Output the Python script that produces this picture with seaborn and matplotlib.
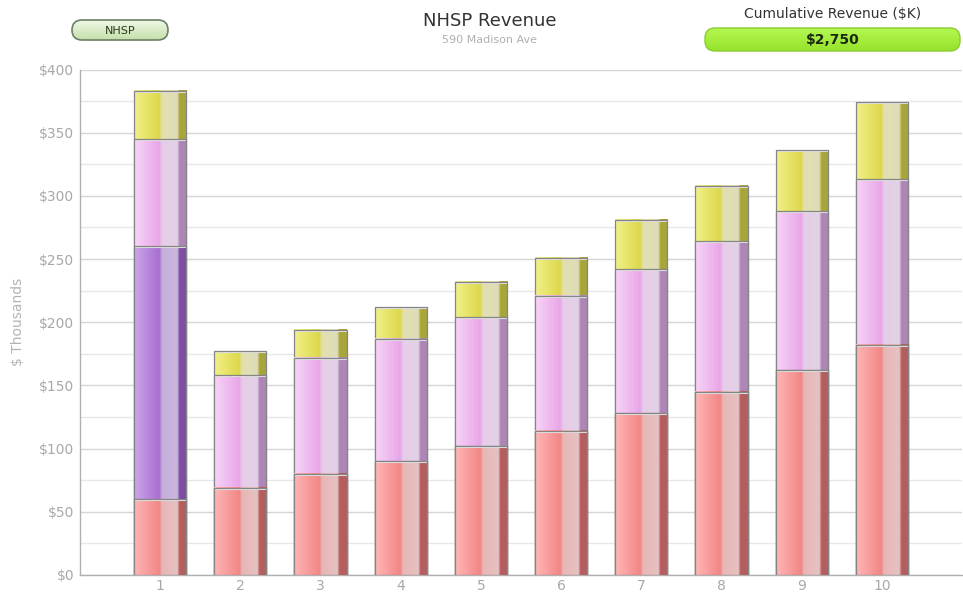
import numpy as np
import pandas as pd
import matplotlib
matplotlib.use("Agg")
import matplotlib.pyplot as plt
import seaborn as sns
from matplotlib.ticker import MultipleLocator, FuncFormatter
from matplotlib.patches import FancyBboxPatch
from matplotlib.colors import to_rgb

# ---- data ----
periods = ["1", "2", "3", "4", "5", "6", "7", "8", "9", "10"]
red = [60, 69, 80, 90, 102, 114, 128, 145, 162, 182]
purple = [200, 0, 0, 0, 0, 0, 0, 0, 0, 0]
pink = [85, 89, 92, 97, 102, 107, 114, 119, 126, 131]
yellow = [38, 19, 22, 25, 28, 30, 39, 44, 48, 61]
cumulative_label = "$2,750"

sns.set_theme(style="white")
plt.rcParams['font.family'] = ['DejaVu Sans']

W, H = 963, 593
fig = plt.figure(figsize=(W / 100, H / 100), dpi=100)
ax = fig.add_axes([80 / W, (H - 575) / H, (962 - 80) / W, (575 - 69.5) / H])

df = pd.DataFrame({"period": periods, "red": red, "purple": purple,
                   "pink": pink, "yellow": yellow})
df["c_red"] = df["red"]
df["c_purple"] = df["c_red"] + df["purple"]
df["c_pink"] = df["c_purple"] + df["pink"]
df["c_yellow"] = df["c_pink"] + df["yellow"]

# gradient profiles (left -> right): light, saturated, light band, dark edge
profiles = {
    "yellow": ["#f2f08a", "#dcd84a", "#e2e0b0", "#dedcb8", "#a8a63a"],
    "pink":   ["#f8d4f8", "#e8a6e8", "#e6cce8", "#e2d2e6", "#ae86b6"],
    "purple": ["#cca6ea", "#a86ed2", "#c6aedc", "#cab8da", "#7e4ea6"],
    "red":    ["#ffb6b6", "#f28686", "#e8b6b6", "#e6c2c2", "#b45e5e"],
}
stops = [0.0, 0.48, 0.53, 0.82, 0.86]


def gradient(colors, n=200):
    xs = np.linspace(0, 1, n)
    sp = stops + [1.0]
    cols = colors + [colors[-1]]
    rgb = np.array([to_rgb(c) for c in cols])
    out = np.zeros((1, n, 3))
    for k in range(3):
        out[0, :, k] = np.interp(xs, sp, rgb[:, k])
    return out


layers = [("yellow", "c_yellow", 2), ("pink", "c_pink", 3),
          ("purple", "c_purple", 4), ("red", "c_red", 5)]

for name, col, z in layers:
    n_before = len(ax.patches)
    sns.barplot(data=df, x="period", y=col, color=profiles[name][1],
                width=0.65, ax=ax, edgecolor="#858585", linewidth=0.9)
    img = gradient(profiles[name])
    for p in ax.patches[n_before:]:
        x0, y0 = p.get_x(), p.get_y()
        w, h = p.get_width(), p.get_height()
        if h <= 0:
            continue
        ax.imshow(img, extent=[x0, x0 + w, y0, y0 + h], aspect="auto",
                  zorder=z, interpolation="bilinear")
        p.set_facecolor("none")
        p.set_zorder(z + 0.5)
        ax.plot([x0, x0 + w], [y0 + h - 0.8, y0 + h - 0.8], color="#e6e6e6",
                lw=0.8, zorder=z + 0.4)

ax.set_xlim(-1, 10)
ax.set_ylim(0, 400)
ax.yaxis.set_major_locator(MultipleLocator(50))
ax.yaxis.set_minor_locator(MultipleLocator(25))
ax.yaxis.set_major_formatter(FuncFormatter(lambda v, _: f"${v:.0f}"))
ax.grid(axis="y", which="major", color="#d6d6d6", lw=1.0, zorder=0)
ax.grid(axis="y", which="minor", color="#e8e8e8", lw=1.0, zorder=0)
ax.set_axisbelow(True)
for s in ["top", "right"]:
    ax.spines[s].set_visible(False)
for s in ["left", "bottom"]:
    ax.spines[s].set_color("#b0b0b0")
    ax.spines[s].set_linewidth(1.0)
ax.tick_params(axis="both", colors="#a8a8a8", labelsize=10, length=0, pad=4)
ax.tick_params(axis="x", pad=3)
ax.set_xlabel("")
ax.set_ylabel("$ Thousands", color="#b4b4b4", fontsize=10)
ax.yaxis.set_label_coords((25 - 80) / 882, 0.5)

# ---- header (overlay in pixel coordinates) ----
hx = fig.add_axes([0, 0, 1, 1], zorder=10)
hx.set_xlim(0, W)
hx.set_ylim(H, 0)
hx.axis("off")
hx.patch.set_alpha(0)


def pill(x, y, w, h, r, top, bottom, edge, lw):
    grad = np.linspace(0, 1, 50)[:, None]
    c0, c1 = np.array(to_rgb(top)), np.array(to_rgb(bottom))
    img = (c0[None, None, :] * (1 - grad[..., None]) + c1[None, None, :] * grad[..., None])
    box = FancyBboxPatch((x, y), w, h, boxstyle=f"round,pad=0,rounding_size={r}",
                         facecolor="none", edgecolor=edge, linewidth=lw, zorder=3)
    hx.add_patch(box)
    im = hx.imshow(img, extent=[x, x + w, y + h, y], aspect="auto", zorder=2,
                   interpolation="bilinear")
    im.set_clip_path(box)


pill(72, 20, 96, 20, 10, "#eef8e6", "#c4e0aa", "#6e7e66", 1.2)
hx.text(120, 30.5, "NHSP", ha="center", va="center", fontsize=8, color="#2a3a20")

pill(705, 28, 255, 23, 10, "#b4f850", "#96e22c", "#8acc30", 1.0)
hx.text(833, 14.5, "Cumulative Revenue ($K)", ha="center", va="center",
        fontsize=10, color="#333333")
hx.text(833, 40, cumulative_label, ha="center", va="center",
        fontsize=10, color="#1a2a10", fontweight="bold")

hx.text(490, 21, "NHSP Revenue", ha="center", va="center",
        fontsize=13, color="#333333")
hx.text(490, 40, "590 Madison Ave", ha="center", va="center",
        fontsize=8, color="#b0b0b0")

fig.savefig("out.png", dpi=100)
